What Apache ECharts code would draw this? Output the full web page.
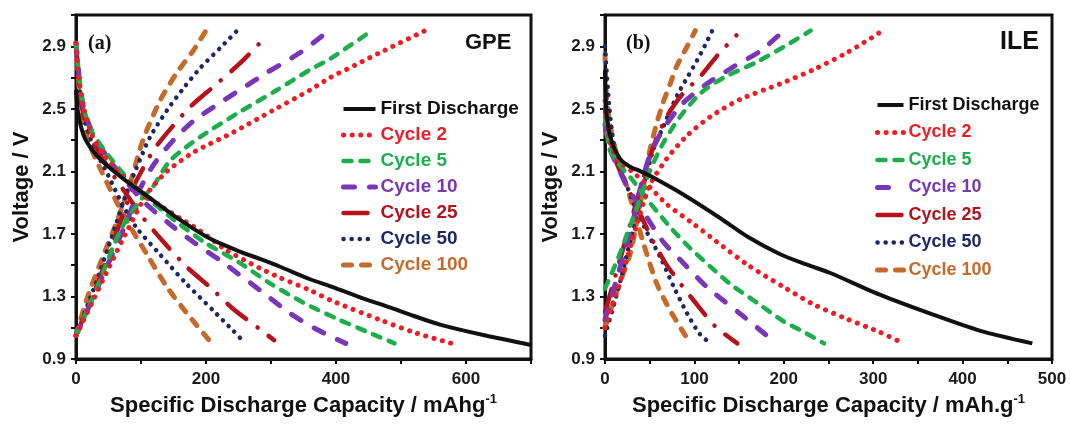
<!DOCTYPE html>
<html>
<head>
<meta charset="utf-8">
<script src="https://cdn.jsdelivr.net/npm/echarts@6/dist/echarts.min.js"></script>
<style>
  html, body { margin: 0; padding: 0; background: #fff; }
  #chart { width: 1070px; height: 424px; }
</style>
</head>
<body>
<div id="chart"></div>
<script>
// Legend entries, in drawing order
const seriesNames = ['First Discharge', 'Cycle 2', 'Cycle 5', 'Cycle 10', 'Cycle 25', 'Cycle 50', 'Cycle 100'];

// ---- (a) GPE: [capacity mAh/g, voltage V] ----
const gpeFirst = [[0,2.62],[3,2.48],[8,2.38],[15,2.3],[30,2.21],[50,2.13],[80,2.03],[100,1.97],[130,1.88],[160,1.79],[206,1.67],[250,1.59],[283,1.54],[314,1.49],[360,1.41],[395,1.36],[440,1.29],[483,1.23],[520,1.175],[560,1.12],[630,1.05],[700,0.99]];
const gpeC2Dis = [[0,2.92],[4,2.7],[12,2.5],[25,2.33],[40,2.22],[60,2.12],[100,1.97],[130,1.88],[160,1.8],[191,1.72],[230,1.6],[283,1.48],[314,1.42],[360,1.34],[395,1.27],[468,1.15],[520,1.07],[578,1.0]];
const gpeC2Chg = [[0,1.05],[20,1.22],[50,1.48],[80,1.73],[110,1.96],[140,2.1],[180,2.22],[242,2.35],[303,2.49],[360,2.62],[391,2.7],[430,2.78],[468,2.86],[537,3.0]];
const gpeC5Dis = [[0,2.92],[5,2.7],[12,2.5],[25,2.35],[50,2.2],[80,2.05],[100,1.96],[130,1.86],[160,1.76],[200,1.64],[250,1.52],[300,1.38],[350,1.26],[400,1.16],[450,1.07],[490,1.0]];
const gpeC5Chg = [[0,1.05],[30,1.33],[68,1.72],[100,1.92],[118,2.0],[145,2.17],[191,2.32],[252,2.48],[309,2.62],[360,2.75],[391,2.82],[455,3.0]];
const gpeC10Dis = [[0,2.92],[5,2.7],[12,2.5],[25,2.35],[50,2.18],[80,2.02],[103,1.91],[145,1.76],[180,1.65],[222,1.53],[283,1.34],[330,1.19],[370,1.09],[415,1.0]];
const gpeC10Chg = [[0,1.05],[40,1.42],[75,1.75],[95,1.96],[119,2.14],[150,2.3],[180,2.42],[222,2.54],[252,2.62],[293,2.73],[345,2.86],[383,2.98]];
const gpeC25Dis = [[0,2.92],[5,2.65],[12,2.45],[25,2.3],[50,2.12],[75,1.97],[100,1.82],[130,1.67],[170,1.49],[206,1.36],[242,1.22],[283,1.09],[305,1.02]];
const gpeC25Chg = [[0,1.05],[30,1.35],[60,1.68],[85,1.97],[98,2.08],[120,2.24],[145,2.37],[175,2.51],[211,2.64],[252,2.79],[285,2.93]];
const gpeC50Dis = [[0,2.92],[5,2.65],[12,2.45],[25,2.28],[50,2.07],[70,1.9],[93,1.74],[129,1.57],[170,1.38],[211,1.21],[242,1.08],[258,1.01]];
const gpeC50Chg = [[0,1.05],[30,1.38],[55,1.68],[75,1.93],[93,2.12],[114,2.32],[140,2.49],[165,2.63],[191,2.76],[222,2.89],[248,3.0]];
const gpeC100Dis = [[0,2.92],[5,2.62],[11,2.42],[20,2.28],[37,2.12],[57,1.95],[80,1.77],[109,1.57],[140,1.36],[175,1.17],[209,1.0]];
const gpeC100Chg = [[0,1.05],[18,1.3],[42,1.56],[63,1.78],[83,2.02],[103,2.3],[129,2.55],[155,2.73],[180,2.87],[200,3.0]];

// ---- (b) ILE: [capacity mAh/g, voltage V] ----
const ileFirst = [[0,2.75],[2,2.45],[8,2.28],[17,2.18],[28,2.13],[40,2.1],[54,2.06],[88,1.95],[129,1.8],[160,1.68],[196,1.57],[225,1.505],[252,1.45],[308,1.31],[364,1.19],[420,1.08],[478,1.0]];
const ileC2Dis = [[0,2.55],[5,2.3],[15,2.17],[30,2.1],[50,2.0],[69,1.89],[100,1.76],[125,1.65],[160,1.5],[200,1.36],[233,1.25],[271,1.155],[308,1.07],[330,1.01]];
const ileC2Chg = [[0,1.1],[20,1.45],[35,1.75],[50,2.01],[69,2.18],[92,2.33],[118,2.45],[151,2.56],[196,2.66],[233,2.75],[271,2.86],[308,2.99]];
const ileC5Dis = [[0,2.45],[5,2.25],[15,2.15],[30,2.05],[50,1.9],[75,1.73],[95,1.61],[120,1.48],[140,1.38],[170,1.26],[200,1.14],[220,1.08],[245,1.0]];
const ileC5Chg = [[0,1.35],[15,1.55],[30,1.78],[40,1.93],[50,2.1],[65,2.28],[84,2.45],[107,2.6],[133,2.7],[170,2.8],[207,2.92],[230,3.0]];
const ileC10Dis = [[0,2.4],[5,2.25],[15,2.12],[25,2.0],[43,1.84],[65,1.65],[90,1.5],[114,1.36],[151,1.19],[181,1.05]];
const ileC10Chg = [[0,1.15],[15,1.45],[30,1.75],[40,2.0],[50,2.2],[65,2.37],[88,2.54],[114,2.66],[144,2.77],[174,2.87],[198,2.99]];
const ileC25Dis = [[0,2.5],[10,2.2],[25,2.0],[40,1.82],[54,1.65],[68,1.51],[86,1.37],[104,1.24],[123,1.11],[148,1.0]];
const ileC25Chg = [[0,1.2],[15,1.5],[30,1.8],[45,2.1],[57,2.3],[69,2.45],[86,2.59],[107,2.71],[127,2.85],[147,2.97]];
const ileC50Dis = [[0,2.9],[5,2.5],[12,2.2],[25,2.0],[36,1.84],[47,1.71],[62,1.55],[77,1.36],[92,1.19],[106,1.06],[118,1.0]];
const ileC50Chg = [[0,1.05],[15,1.35],[30,1.7],[43,2.0],[54,2.24],[64,2.37],[73,2.49],[82,2.6],[92,2.7],[103,2.81],[114,2.93],[120,3.0]];
const ileC100Dis = [[0,2.85],[2,2.55],[9,2.3],[17,2.14],[24,2.01],[32,1.86],[43,1.64],[58,1.38],[73,1.21],[92,1.03]];
const ileC100Chg = [[0,1.1],[13,1.33],[28,1.57],[35,1.76],[42,1.97],[50,2.23],[58,2.41],[65,2.54],[73,2.66],[80,2.77],[92,2.9],[101,3.0]];

// Curves per panel: discharge branch first, then charge branch
const panels = [
  {
    'First Discharge': [gpeFirst],
    'Cycle 2': [gpeC2Dis, gpeC2Chg],
    'Cycle 5': [gpeC5Dis, gpeC5Chg],
    'Cycle 10': [gpeC10Dis, gpeC10Chg],
    'Cycle 25': [gpeC25Dis, gpeC25Chg],
    'Cycle 50': [gpeC50Dis, gpeC50Chg],
    'Cycle 100': [gpeC100Dis, gpeC100Chg]
  },
  {
    'First Discharge': [ileFirst],
    'Cycle 2': [ileC2Dis, ileC2Chg],
    'Cycle 5': [ileC5Dis, ileC5Chg],
    'Cycle 10': [ileC10Dis, ileC10Chg],
    'Cycle 25': [ileC25Dis, ileC25Chg],
    'Cycle 50': [ileC50Dis, ileC50Chg],
    'Cycle 100': [ileC100Dis, ileC100Chg]
  }
];

// Line appearance per cycle
const lineLook = {
  'First Discharge': { color: '#111111', width: 4,   type: 'solid', cap: 'butt' },
  'Cycle 2':   { color: '#ee1d23', width: 5,   type: [0.1, 8.5], cap: 'round' },
  'Cycle 5':   { color: '#1cae4c', width: 4.5, type: [8, 9], cap: 'round' },
  'Cycle 10':  { color: '#7a36b8', width: 5,   type: [11, 15], cap: 'round' },
  'Cycle 25':  { color: '#b5121b', width: 4.5, type: [24, 14, 0.1, 14], cap: 'round' },
  'Cycle 50':  { color: '#1b2768', width: 4.5, type: [0.1, 8], cap: 'round' },
  'Cycle 100': { color: '#c56a2a', width: 5,   type: [8, 10], cap: 'round' }
};

const FONT = '"Liberation Sans", Arial, sans-serif';

const series = [];
panels.forEach((curves, p) => {
  seriesNames.forEach((name, i) => {
    const look = lineLook[name];
    curves[name].forEach(branch => {
      series.push({
        name: name,
        type: 'line',
        xAxisIndex: p,
        yAxisIndex: p,
        data: branch,
        symbol: 'none',
        smooth: 0.25,
        color: look.color,
        lineStyle: { color: look.color, width: look.width, type: look.type, cap: look.cap },
        z: 2 + (seriesNames.length - i)
      });
    });
  });
});

function yLabel(v) {
  const k = Math.round((v - 0.9) / 0.2);
  return k % 2 === 0 ? v.toFixed(1) : '';
}

function makeY(idx, gap) {
  return {
    type: 'value', gridIndex: idx, min: 0.9, max: 3.1, interval: 0.2,
    name: 'Voltage / V', nameLocation: 'middle', nameGap: gap, nameRotate: 90,
    nameTextStyle: { fontFamily: FONT, fontWeight: 'bold', fontSize: 22, color: '#111' },
    axisLine: { show: true, lineStyle: { color: '#111', width: 3 } },
    axisTick: { show: true, inside: false, length: 5, lineStyle: { color: '#111', width: 2 } },
    axisLabel: { formatter: yLabel, margin: 10, fontFamily: FONT, fontWeight: 'bold', fontSize: 17, color: '#1a1a1a' },
    splitLine: { show: false }
  };
}

function makeX(idx, max, interval, labelStep, unit) {
  return {
    type: 'value', gridIndex: idx, min: 0, max: max, interval: interval,
    name: 'Specific Discharge Capacity / ' + unit + '{sup|-1}',
    nameLocation: 'middle', nameGap: 34,
    nameTextStyle: {
      fontFamily: FONT, fontWeight: 'bold', fontSize: 22, color: '#111', lineHeight: 26,
      rich: { sup: { fontFamily: FONT, fontWeight: 'bold', fontSize: 13, color: '#111', verticalAlign: 'top', lineHeight: 13 } }
    },
    axisLine: { show: true, lineStyle: { color: '#111', width: 3 } },
    axisTick: { show: true, inside: false, length: 5, lineStyle: { color: '#111', width: 2 } },
    axisLabel: {
      formatter: v => (v % labelStep === 0 ? String(v) : ''),
      margin: 12, fontFamily: FONT, fontWeight: 'bold', fontSize: 17, color: '#1a1a1a'
    },
    splitLine: { show: false }
  };
}

function makeLegend(left, top, itemWidth, gap, size) {
  return {
    orient: 'vertical', left: left, top: top, itemWidth: itemWidth, itemHeight: 12, itemGap: gap,
    selectedMode: false,
    itemStyle: { color: 'rgba(0,0,0,0)', borderWidth: 0, opacity: 0 },
    data: seriesNames.map(n => {
      const look = lineLook[n];
      return {
        name: n,
        lineStyle: { color: look.color, width: look.width, type: look.type, cap: look.cap },
        textStyle: { color: look.color }
      };
    }),
    textStyle: { fontFamily: FONT, fontWeight: 'bold', fontSize: size, lineHeight: 20 }
  };
}

const option = {
  animation: false,
  backgroundColor: '#ffffff',
  grid: [
    { left: 76, top: 15, width: 455, height: 347, show: true, borderColor: '#111', borderWidth: 3, containLabel: false },
    { left: 605, top: 15, width: 447, height: 347, show: true, borderColor: '#111', borderWidth: 3, containLabel: false }
  ],
  xAxis: [
    makeX(0, 700, 100, 200, 'mAhg'),
    makeX(1, 500, 50, 100, 'mAh.g')
  ],
  yAxis: [makeY(0, 43), makeY(1, 43)],
  legend: [
    makeLegend(336, 94, 32, 6, 19),
    makeLegend(870, 90, 26, 7.5, 18)
  ],
  title: [
    { text: 'GPE', left: 460, top: 27, textStyle: { fontFamily: FONT, fontWeight: 'bold', fontSize: 22, color: '#111' } },
    { text: 'ILE', left: 995, top: 25, textStyle: { fontFamily: FONT, fontWeight: 'bold', fontSize: 25, color: '#111' } },
    { text: '(a)', left: 83, top: 29, textStyle: { fontFamily: '"Liberation Serif", "Times New Roman", serif', fontWeight: 'bold', fontSize: 20, color: '#111' } },
    { text: '(b)', left: 621, top: 29, textStyle: { fontFamily: '"Liberation Serif", "Times New Roman", serif', fontWeight: 'bold', fontSize: 20, color: '#111' } }
  ],
  series: series
};

const chart = echarts.init(document.getElementById('chart'), null, { renderer: 'canvas' });
chart.setOption(option);
</script>
</body>
</html>
